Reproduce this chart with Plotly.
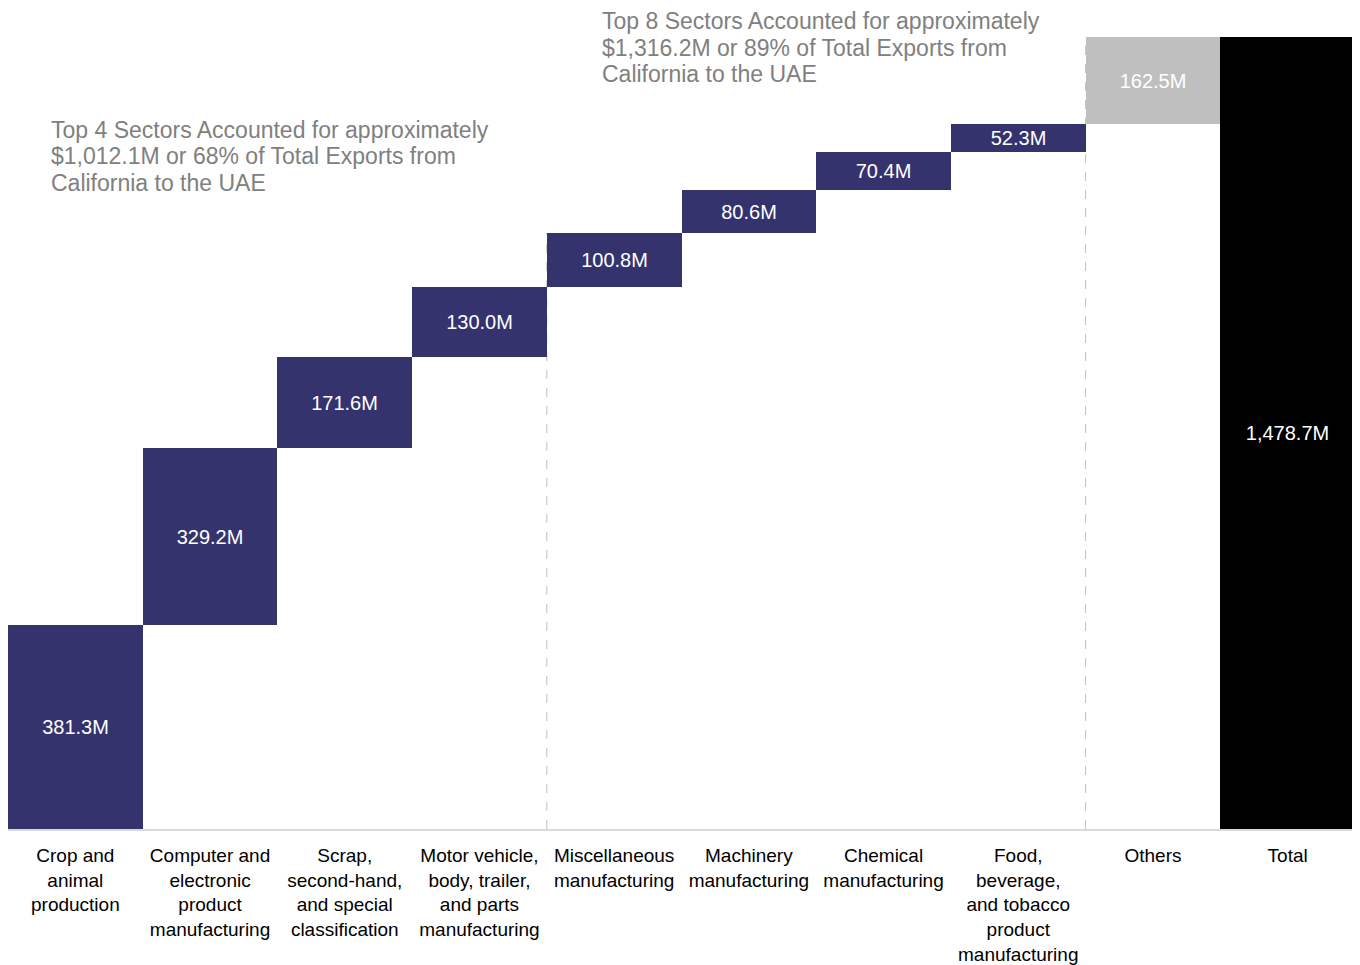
import plotly.graph_objects as go

categories = [
    "Crop and<br>animal<br>production",
    "Computer and<br>electronic<br>product<br>manufacturing",
    "Scrap,<br>second-hand,<br>and special<br>classification",
    "Motor vehicle,<br>body, trailer,<br>and parts<br>manufacturing",
    "Miscellaneous<br>manufacturing",
    "Machinery<br>manufacturing",
    "Chemical<br>manufacturing",
    "Food,<br>beverage,<br>and tobacco<br>product<br>manufacturing",
    "Others",
    "Total",
]
values = [381.3, 329.2, 171.6, 130.0, 100.8, 80.6, 70.4, 52.3, 162.5, 1478.7]
labels = ["381.3M", "329.2M", "171.6M", "130.0M", "100.8M", "80.6M", "70.4M", "52.3M", "162.5M", "1,478.7M"]
is_total = [False] * 9 + [True]

note_top4 = ["Top 4 Sectors Accounted for approximately",
             "$1,012.1M or 68% of Total Exports from",
             "California to the UAE"]
note_top8 = ["Top 8 Sectors Accounted for approximately",
             "$1,316.2M or 89% of Total Exports from",
             "California to the UAE"]

# bases from cumulative sums
bases = []
run = 0.0
for v, t in zip(values, is_total):
    if t:
        bases.append(0.0)
    else:
        bases.append(run)
        run += v

NAVY = "#35336E"
colors = [NAVY] * 8 + ["#BFBFBF", "#000000"]

x = list(range(len(categories)))

fig = go.Figure()
fig.add_trace(go.Bar(
    x=x, y=values, base=bases,
    marker=dict(color=colors, line=dict(width=0)),
    text=labels, textposition="inside", insidetextanchor="middle",
    textangle=0,
    insidetextfont=dict(color="white", size=20, family="Liberation Sans, Arial, sans-serif"),
    width=1.0,
    hoverinfo="skip",
))

total = values[-1]
top4 = sum(values[:4])

# page body has an 8px margin; figure occupies screen x 8..1360, y 8..965
OFF = 8
FIG_W, FIG_H = 1360 - OFF, 965 - OFF
PLOT_TOP, PLOT_BOT, PLOT_L, PLOT_R = 37, 829, 8, 1355  # screen coords
PLOT_W = PLOT_R - PLOT_L
PLOT_H = PLOT_BOT - PLOT_TOP

annotations = []
def add_note(lines, left_px, first_center_px, spacing=26.5):
    for i, line in enumerate(lines):
        cy = first_center_px + i * spacing
        annotations.append(dict(
            xref="paper", yref="paper",
            x=(left_px - PLOT_L) / PLOT_W, y=(PLOT_BOT - cy) / PLOT_H,
            xanchor="left", yanchor="middle", align="left", showarrow=False,
            text=line, font=dict(size=23, color="#808080"),
        ))

add_note(note_top4, 49, 130)
add_note(note_top8, 600, 21)

fig.update_layout(
    width=FIG_W, height=FIG_H,
    margin=dict(l=PLOT_L - OFF, r=1360 - PLOT_R, t=PLOT_TOP - OFF, b=965 - PLOT_BOT, pad=0),
    plot_bgcolor="white", paper_bgcolor="white",
    bargap=0, showlegend=False,
    uniformtext=dict(minsize=20, mode="show"),
    font=dict(family="Liberation Sans, Arial, sans-serif", color="black"),
    shapes=[
        dict(type="line", xref="x", yref="y", x0=3.5, x1=3.5, y0=0, y1=top4 + values[4],
             line=dict(color="#BFBFBF", width=1, dash="dash"), layer="below"),
        dict(type="line", xref="x", yref="y", x0=7.5, x1=7.5, y0=0, y1=total,
             line=dict(color="#BFBFBF", width=1, dash="dash"), layer="below"),
    ],
    annotations=annotations,
)
fig.update_xaxes(
    tickmode="array", tickvals=x, ticktext=categories,
    range=[-0.5, 9.5], showgrid=False, zeroline=False,
    showline=True, linecolor="#D9D9D9", linewidth=2,
    ticks="", tickfont=dict(size=19, color="black"),
    tickangle=0, automargin=False, ticklabelstandoff=8,
)
fig.update_yaxes(range=[0, total], visible=False, showgrid=False, zeroline=False, automargin=False)

fig.write_html("out.html")
